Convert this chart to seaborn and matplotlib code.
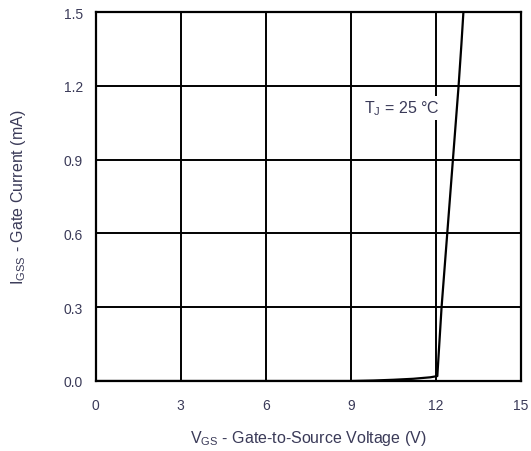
import matplotlib
matplotlib.use("Agg")
import matplotlib.pyplot as plt
import seaborn as sns
import pandas as pd

vgs = [0.0, 9.0, 9.8, 10.5, 11.2, 11.8, 12.05, 12.2, 12.5, 12.8, 12.9, 12.97]
igss = [0.0, 0.0, 0.002, 0.005, 0.009, 0.015, 0.02, 0.3, 0.75, 1.2, 1.37, 1.5]
x_ticks = [0, 3, 6, 9, 12, 15]
y_ticks = [0.0, 0.3, 0.6, 0.9, 1.2, 1.5]
y_tick_labels = ["0.0", "0.3", "0.6", "0.9", "1.2", "1.5"]

sns.set_style("white")
plt.rcParams['font.family'] = ['Liberation Sans', 'DejaVu Sans']

df = pd.DataFrame({"vgs": vgs, "igss": igss})

fig = plt.figure(figsize=(5.31, 4.52), dpi=100)
ax = fig.add_axes([95.5 / 531, 1 - 382 / 452, (521 - 95.5) / 531, (382 - 13) / 452])

sns.lineplot(data=df, x="vgs", y="igss", ax=ax, color="black", linewidth=1.6, sort=False, zorder=3)

ax.set_xlim(0, 15)
ax.set_ylim(0, 1.5)
ax.set_xticks(x_ticks)
ax.set_yticks(y_ticks)
ax.set_yticklabels(y_tick_labels)
ax.grid(True, color="black", linewidth=1.4)
for s in ax.spines.values():
    s.set_color("black")
    s.set_linewidth(1.6)
txtcol = "#3a3a58"
ax.tick_params(axis="both", length=0, labelsize=10, labelcolor=txtcol)
ax.tick_params(axis="x", pad=12)
ax.tick_params(axis="y", pad=9)

ax.set_xlabel(r"V$_{\mathregular{GS}}$ - Gate-to-Source Voltage (V)", fontsize=11.5, color=txtcol, labelpad=12)
ax.set_ylabel(r"I$_{\mathregular{GSS}}$ - Gate Current (mA)", fontsize=11.5, color=txtcol, labelpad=26)

ax.text(9.45, 1.11, r"T$_{\mathregular{J}}$ = 25 °C", fontsize=11.5, color=txtcol,
        ha="left", va="center", zorder=4,
        bbox=dict(facecolor="white", edgecolor="none", pad=2))

fig.savefig("out.png", dpi=100)
